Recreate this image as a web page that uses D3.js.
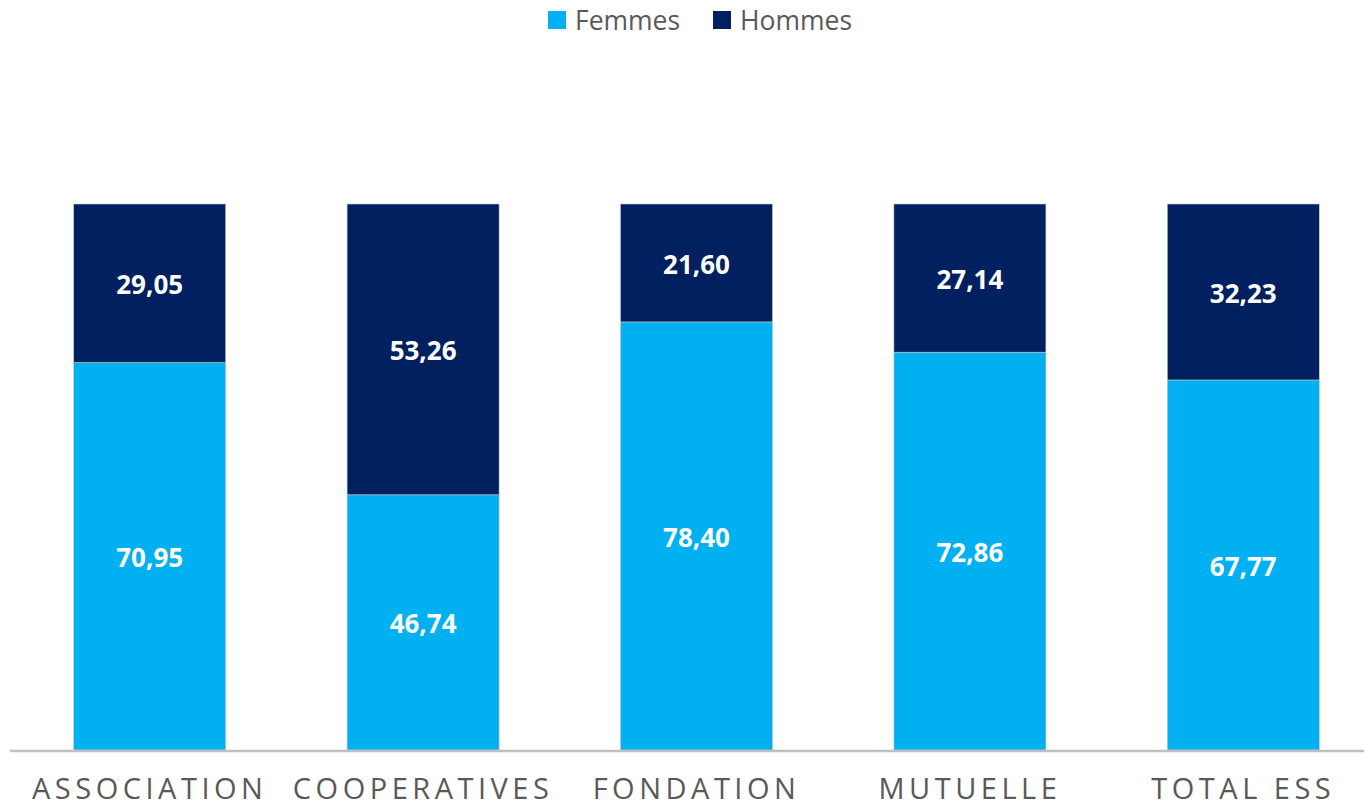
<!DOCTYPE html>
<html>
<head>
<meta charset="utf-8">
<script src="https://cdn.jsdelivr.net/npm/d3@7"></script>
<style>
  body { margin: 0; background: #fff; }
  svg { display: block; }
  text { font-family: "Open Sans", "Noto Sans", sans-serif; }
</style>
</head>
<body>
<div id="chart"></div>
<script>
const categories = ["ASSOCIATION", "COOPERATIVES", "FONDATION", "MUTUELLE", "TOTAL ESS"];
const femmes = [70.95, 46.74, 78.40, 72.86, 67.77];
const hommes = [29.05, 53.26, 21.60, 27.14, 32.23];
const seriesNames = ["Femmes", "Hommes"];
const colors = ["#00b0f0", "#002060"];

const w = 1364, h = 808;
const svg = d3.select("#chart").append("svg").attr("width", w).attr("height", h);

const x = d3.scaleBand().domain(categories).range([13, 1380]).paddingInner(0.444).paddingOuter(0.222);
const y = d3.scaleLinear().domain([0, 100]).range([750, 204]);

const rows = categories.map((c, i) => ({ cat: c, Femmes: femmes[i], Hommes: hommes[i] }));
const stack = d3.stack().keys(seriesNames)(rows);
const fmt = (v) => v.toFixed(2).replace(".", ",");

const layers = svg.selectAll("g.layer").data(stack).enter().append("g")
  .attr("class", "layer")
  .attr("fill", (d, i) => colors[i]);

layers.selectAll("rect").data((d) => d).enter().append("rect")
  .attr("x", (d) => x(d.data.cat))
  .attr("width", x.bandwidth())
  .attr("y", (d) => y(d[1]))
  .attr("height", (d) => y(d[0]) - y(d[1]))
  .attr("stroke", "#c8c8c8")
  .attr("stroke-width", 0.6);

layers.selectAll("text").data((d) => d).enter().append("text")
  .attr("x", (d) => x(d.data.cat) + x.bandwidth() / 2)
  .attr("y", (d) => (y(d[0]) + y(d[1])) / 2)
  .attr("dy", "0.42em")
  .attr("text-anchor", "middle")
  .attr("fill", "#fff")
  .attr("font-weight", "bold")
  .attr("font-size", 26)
  .text((d) => fmt(d[1] - d[0]));

// axis
const xAxis = svg.append("g").attr("transform", "translate(0,751)")
  .call(d3.axisBottom(x).tickSize(0).tickPadding(27));
xAxis.select(".domain").attr("stroke", "#bfbfbf").attr("stroke-width", 2.5)
  .attr("d", "M10,0H1364");
xAxis.selectAll(".tick text")
  .attr("fill", "#595959")
  .attr("font-size", 29)
  .attr("letter-spacing", "4.5px")
  .style("font-family", "\"Open Sans\", sans-serif");

// legend
const legend = svg.append("g");
const lx = [548, 713];
seriesNames.forEach((s, i) => {
  legend.append("rect").attr("x", lx[i]).attr("y", 11).attr("width", 18).attr("height", 18).attr("fill", colors[i]);
  legend.append("text").attr("x", lx[i] + 27).attr("y", 30)
    .attr("fill", "#595959").attr("font-size", 26.5).text(s);
});
</script>
</body>
</html>
